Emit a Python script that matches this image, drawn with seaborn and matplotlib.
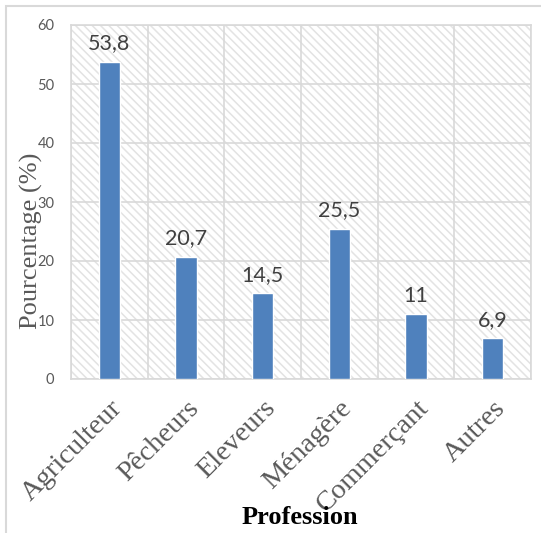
import matplotlib
matplotlib.use('Agg')
import matplotlib.pyplot as plt
from matplotlib.patches import Rectangle
import seaborn as sns
import pandas as pd

# Data
professions = ['Agriculteur', 'Pêcheurs', 'Eleveurs', 'Ménagère', 'Commerçant', 'Autres']
percentages = [53.8, 20.7, 14.5, 25.5, 11, 6.9]
value_labels = ['53,8', '20,7', '14,5', '25,5', '11', '6,9']
y_ticks = [0, 10, 20, 30, 40, 50, 60]

df = pd.DataFrame({'Profession': professions, 'Pourcentage': percentages})

sns.set_style('white')
plt.rcParams['hatch.linewidth'] = 1.1

fig = plt.figure(figsize=(5.41, 5.33), dpi=100)
ax = fig.add_axes([71 / 541, 1 - 379 / 533, 460 / 541, 354 / 533])

# hatched background of the plot area
ax.add_patch(Rectangle((0, 0), 1, 1, transform=ax.transAxes, facecolor='white',
                       edgecolor='#e3e3e3', hatch='\\\\\\\\', linewidth=0, zorder=0))

sns.barplot(data=df, x='Profession', y='Pourcentage', color='#4F81BD',
            width=0.28, saturation=1, ax=ax, zorder=3)

ax.set_xlim(-0.5, len(professions) - 0.5)
ax.set_ylim(0, 60)
ax.set_yticks(y_ticks)
ax.set_yticklabels([str(t) for t in y_ticks], fontfamily='Lato', fontsize=10.5, color='#595959')
ax.set_xticks(range(len(professions)))
ax.set_xticks([i - 0.5 for i in range(len(professions) + 1)], minor=True)
ax.set_xticklabels(professions, rotation=45, ha='right', va='top', rotation_mode='anchor',
                   fontfamily='Liberation Serif', fontsize=20.5, color='#595959')
ax.tick_params(axis='both', which='both', length=0)
ax.tick_params(axis='y', pad=12)
ax.tick_params(axis='x', pad=12)

ax.grid(axis='y', color='#d9d9d9', linewidth=1.2, zorder=1)
ax.grid(axis='x', which='minor', color='#d9d9d9', linewidth=1.2, zorder=1)
ax.set_axisbelow(True)
for s in ax.spines.values():
    s.set_color('#d9d9d9')
    s.set_linewidth(1.2)

for i, (v, lab) in enumerate(zip(percentages, value_labels)):
    ax.annotate(lab, (i, v), xytext=(0, 6), textcoords='offset points', ha='center',
                va='bottom', fontfamily='Lato', fontsize=15.5, color='#404040', zorder=5)

ax.set_ylabel('Pourcentage (%)', fontfamily='Liberation Serif', fontsize=19, color='#595959')
ax.yaxis.set_label_coords(-0.06, 0.39)
ax.set_xlabel('')
fig.text(300 / 541, 1 - 518 / 533, 'Profession', ha='center', va='center',
         fontfamily='Liberation Serif', fontweight='bold', fontsize=19, color='black')

# outer chart border
fig.patches.append(Rectangle((6 / 541, -0.1), 1.2, 1.1 - 6 / 533, transform=fig.transFigure,
                             fill=False, edgecolor='#d9d9d9', linewidth=1.5))

fig.savefig('out.png', dpi=100)
